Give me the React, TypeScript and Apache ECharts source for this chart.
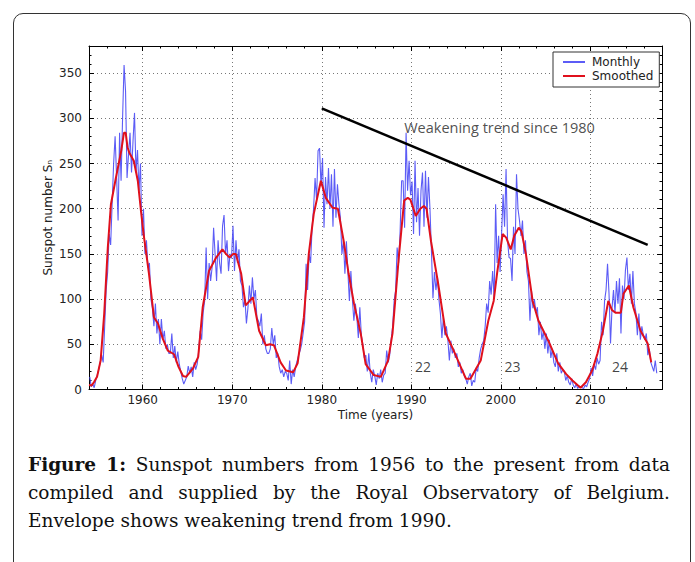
import React, { useEffect, useRef } from "react";
import * as echarts from "echarts";

// ---- axis ranges / ticks ----
const X_MIN = 1954;
const X_MAX = 2018;
const Y_MIN = 0;
const Y_MAX = 380;
const yearTicks = [1960, 1970, 1980, 1990, 2000, 2010];

// ---- monthly sunspot number (~6 samples per year) ----
const monthlyStart = 1954;
const samplesPerYear = 6;
const monthlyValues = [
  14, 3, 6, 2, 10, 16, // 1954
  22, 30, 38, 30, 70, 110, // 1955
  130, 172, 160, 205, 250, 280, // 1956
  235, 187, 284, 231, 300, 359, // 1957
  330, 234, 260, 284, 240, 275, // 1958
  306, 240, 265, 220, 250, 170, // 1959
  200, 150, 165, 135, 140, 100, // 1960
  90, 70, 95, 62, 78, 50, // 1961
  78, 55, 65, 45, 50, 40, // 1962
  40, 62, 35, 48, 30, 42, // 1963
  28, 20, 12, 6, 10, 14, // 1964
  26, 18, 25, 14, 30, 22, // 1965
  28, 42, 65, 55, 85, 98, // 1966
  157, 100, 140, 120, 135, 179, // 1967
  150, 120, 165, 140, 128, 181, // 1968
  193, 150, 165, 131, 150, 145, // 1969
  181, 131, 165, 140, 155, 120, // 1970
  115, 91, 100, 73, 90, 115, // 1971
  95, 124, 100, 110, 80, 76, // 1972
  70, 84, 50, 60, 45, 40, // 1973
  40, 45, 68, 50, 60, 35, // 1974
  40, 25, 18, 22, 14, 20, // 1975
  18, 10, 32, 6, 22, 14, // 1976
  25, 32, 38, 43, 50, 62, // 1977
  75, 139, 110, 150, 140, 179, // 1978
  200, 234, 210, 264, 267, 225, // 1979
  256, 179, 235, 205, 245, 200, // 1980
  238, 180, 244, 190, 227, 205, // 1981
  190, 150, 165, 128, 164, 130, // 1982
  98, 131, 100, 76, 95, 80, // 1983
  57, 91, 60, 50, 35, 38, // 1984
  20, 40, 18, 8, 22, 15, // 1985
  5, 18, 12, 22, 8, 16, // 1986
  18, 43, 30, 38, 55, 70, // 1987
  98, 110, 157, 140, 175, 231, // 1988
  231, 179, 284, 220, 253, 215, // 1989
  230, 172, 253, 185, 223, 170, // 1990
  220, 240, 180, 242, 190, 235, // 1991
  200, 153, 101, 130, 110, 125, // 1992
  100, 84, 57, 80, 60, 70, // 1993
  55, 32, 54, 40, 45, 35, // 1994
  40, 25, 30, 18, 22, 15, // 1995
  12, 6, 14, 18, 4, 10, // 1996
  8, 24, 20, 35, 45, 50, // 1997
  54, 70, 95, 85, 120, 105, // 1998
  131, 100, 205, 140, 170, 130, // 1999
  172, 216, 180, 244, 165, 146, // 2000
  145, 120, 180, 150, 238, 200, // 2001
  187, 170, 187, 150, 165, 130, // 2002
  120, 76, 110, 90, 100, 85, // 2003
  91, 60, 75, 55, 65, 45, // 2004
  62, 40, 55, 35, 45, 30, // 2005
  25, 40, 20, 30, 18, 22, // 2006
  20, 10, 15, 8, 5, 12, // 2007
  5, 2, 6, 1, 4, 3, // 2008
  2, 1, 5, 3, 8, 12, // 2009
  24, 15, 28, 22, 35, 28, // 2010
  32, 75, 60, 98, 110, 139, // 2011
  106, 51, 90, 110, 85, 120, // 2012
  95, 123, 62, 115, 100, 132, // 2013
  146, 110, 128, 95, 131, 95, // 2014
  85, 60, 84, 55, 70, 60, // 2015
  55, 62, 38, 45, 30, 25, // 2016
  20, 32, 18, // 2017
];

// ---- 13-month smoothed sunspot number [year, value] ----
const smoothed: [number, number][] = [
  [1954.0, 5], [1954.3, 4.5], [1954.55, 8], [1954.9, 14], [1955.3, 32], [1955.7, 84],
  [1956.1, 157], [1956.45, 205], [1957.0, 234], [1957.6, 264], [1957.9, 284], [1958.1, 284],
  [1958.3, 268], [1958.5, 262], [1959.0, 253], [1959.45, 231], [1959.8, 198], [1960.1, 172],
  [1960.7, 128], [1961.25, 80], [1961.7, 73], [1962.25, 56], [1962.8, 43], [1963.5, 39],
  [1964.0, 25], [1964.5, 15], [1964.85, 14], [1965.6, 23], [1966.2, 36], [1966.7, 91],
  [1967.4, 131], [1968.2, 146], [1968.9, 155], [1969.3, 150], [1969.7, 146], [1970.1, 150],
  [1970.4, 150], [1971.0, 128], [1971.5, 93], [1972.3, 102], [1973.0, 65], [1973.75, 49],
  [1974.2, 50], [1974.65, 49], [1975.4, 30], [1976.0, 21], [1976.8, 19], [1977.3, 29],
  [1978.0, 80], [1978.55, 150], [1979.1, 194], [1979.9, 231], [1980.45, 212], [1981.2, 201],
  [1981.8, 200], [1982.45, 164], [1983.0, 128], [1983.6, 95], [1984.35, 62], [1984.9, 28],
  [1985.8, 16], [1986.6, 14], [1987.4, 32], [1987.9, 62], [1988.6, 146], [1989.2, 209],
  [1989.6, 212], [1989.9, 210], [1990.5, 192], [1991.0, 200], [1991.4, 203], [1991.7, 200],
  [1992.2, 164], [1993.0, 117], [1993.85, 62], [1994.6, 46], [1995.3, 30], [1996.1, 12],
  [1996.6, 12], [1997.75, 32], [1998.6, 76], [1999.2, 98], [1999.6, 130], [2000.2, 172],
  [2000.6, 168], [2001.1, 155], [2001.5, 170], [2002.0, 179], [2002.3, 175], [2002.8, 150],
  [2003.55, 98], [2004.2, 76], [2005.3, 54], [2006.4, 29], [2007.3, 17], [2008.0, 10],
  [2008.9, 2], [2009.5, 8], [2010.2, 21], [2010.8, 40], [2011.4, 65], [2012.0, 98],
  [2012.4, 88], [2012.8, 85], [2013.4, 85], [2013.7, 106], [2014.3, 115], [2014.8, 91],
  [2015.2, 78], [2015.6, 65], [2016.4, 51], [2016.8, 30],
];

// ---- weakening-trend line ----
const trendLine: [number, number][] = [
  [1980, 311],
  [2016.4, 160],
];

// ---- annotations ----
const trendLabel = { text: "Weakening trend since 1980", at: [1989.15, 290] };
const cycleLabels = [
  { text: "22", at: [1991.3, 25] },
  { text: "23", at: [2001.3, 25] },
  { text: "24", at: [2013.3, 25] },
];

const SANS = "DejaVu Sans";
const HUMAN = "Open Sans";

export default function App() {
  const ref = useRef<HTMLDivElement>(null);

  useEffect(() => {
    if (!ref.current) return;
    const chart = echarts.init(ref.current, undefined, { renderer: "svg" });

    const monthly = monthlyValues.map((v, i) => [
      monthlyStart + i / samplesPerYear + 1 / (2 * samplesPerYear),
      v,
    ]);

    const frame = { show: true, onZero: false, lineStyle: { color: "#000", width: 1 } };
    const gridLine = { show: true, lineStyle: { type: [1, 3], color: "#777", width: 1 } };
    const majorX = (pos: "top" | "bottom", labels: boolean) => ({
      type: "value",
      min: X_MIN,
      max: X_MAX,
      position: pos,
      axisLine: frame,
      axisTick: {
        show: true,
        inside: true,
        length: 5,
        customValues: yearTicks,
        lineStyle: { color: "#000", width: 1 },
      },
      axisLabel: labels
        ? {
            show: true,
            customValues: yearTicks,
            formatter: (v: number) => String(Math.round(v)),
            margin: 4,
            fontSize: 12,
            fontFamily: SANS,
            color: "#222",
          }
        : { show: false },
      splitLine: labels ? gridLine : { show: false },
      ...(labels
        ? {
            name: "Time (years)",
            nameLocation: "middle",
            nameGap: 19,
            nameMoveOverlap: false,
            nameTextStyle: {
              fontSize: 12,
              fontFamily: SANS,
              color: "#222",
              verticalAlign: "top",
            },
          }
        : {}),
    });
    const minorX = (pos: "top" | "bottom") => ({
      type: "value",
      min: X_MIN,
      max: X_MAX,
      interval: 2,
      position: pos,
      axisLine: { show: false, onZero: false },
      axisTick: { show: true, inside: true, length: 2.5, lineStyle: { color: "#000", width: 1 } },
      axisLabel: { show: false },
      splitLine: { show: false },
    });
    const majorY = (pos: "left" | "right", labels: boolean) => ({
      type: "value",
      min: Y_MIN,
      max: Y_MAX,
      interval: 50,
      position: pos,
      axisLine: frame,
      axisTick: { show: true, inside: true, length: 5, lineStyle: { color: "#000", width: 1 } },
      axisLabel: labels
        ? {
            show: true,
            showMaxLabel: false,
            margin: 7,
            fontSize: 12,
            fontFamily: SANS,
            color: "#222",
          }
        : { show: false },
      splitLine: labels ? gridLine : { show: false },
      ...(labels
        ? {
            name: "Sunspot number S\u2099",
            nameLocation: "middle",
            nameGap: 35,
            nameMoveOverlap: false,
            nameTextStyle: { fontSize: 12, fontFamily: SANS, color: "#222" },
          }
        : {}),
    });
    const minorY = (pos: "left" | "right") => ({
      type: "value",
      min: Y_MIN,
      max: Y_MAX,
      interval: 10,
      position: pos,
      axisLine: { show: false, onZero: false },
      axisTick: { show: true, inside: true, length: 2.5, lineStyle: { color: "#000", width: 1 } },
      axisLabel: { show: false },
      splitLine: { show: false },
    });

    chart.setOption({
      animation: false,
      backgroundColor: "transparent",
      grid: { left: 89, top: 46, width: 573, height: 343.5, containLabel: false },
      legend: {
        data: ["Monthly", "Smoothed"],
        orient: "vertical",
        left: 553,
        top: 52,
        backgroundColor: "#fff",
        borderColor: "#333",
        borderWidth: 1,
        borderRadius: 0,
        padding: [4, 6, 5, 9],
        itemWidth: 22,
        itemHeight: 12,
        itemGap: 2,
        itemStyle: { opacity: 0 },
        textStyle: { fontSize: 12, fontFamily: SANS, color: "#222", padding: [0, 0, 0, 2] },
      },
      xAxis: [majorX("bottom", true), minorX("bottom"), majorX("top", false), minorX("top")],
      yAxis: [majorY("left", true), minorY("left"), majorY("right", false), minorY("right")],
      series: [
        {
          name: "Monthly",
          type: "line",
          xAxisIndex: 0,
          yAxisIndex: 0,
          data: monthly,
          symbol: "none",
          color: "#4a4af5",
          lineStyle: { color: "#4a4af5", width: 1.1, opacity: 0.9 },
          z: 2,
        },
        {
          name: "Smoothed",
          type: "line",
          xAxisIndex: 0,
          yAxisIndex: 0,
          data: smoothed,
          symbol: "none",
          color: "#e0101c",
          lineStyle: { color: "#e0101c", width: 2 },
          z: 3,
        },
        {
          name: "Trend",
          type: "line",
          xAxisIndex: 0,
          yAxisIndex: 0,
          data: trendLine,
          symbol: "none",
          lineStyle: { color: "#000", width: 2.5 },
          z: 4,
        },
        {
          name: "Annotations",
          type: "scatter",
          xAxisIndex: 0,
          yAxisIndex: 0,
          symbolSize: 1,
          itemStyle: { color: "transparent" },
          z: 5,
          data: [
            {
              value: trendLabel.at,
              label: {
                show: true,
                position: "right",
                distance: 0,
                formatter: trendLabel.text,
                fontSize: 14.5,
                fontFamily: HUMAN,
                color: "#222",
              },
            },
            ...cycleLabels.map((c) => ({
              value: c.at,
              label: {
                show: true,
                position: "inside",
                formatter: c.text,
                fontSize: 14,
                fontFamily: HUMAN,
                color: "#111",
              },
            })),
          ],
        },
      ],
    });

    return () => chart.dispose();
  }, []);

  const captionLine: React.CSSProperties = {
    textAlign: "justify",
    textAlignLast: "justify",
  };

  return (
    <div
      style={{
        position: "fixed",
        left: 0,
        top: 0,
        width: 695,
        height: 562,
        overflow: "hidden",
        background: "#fff",
      }}
    >
      <div
        style={{
          position: "absolute",
          left: 13,
          top: 13,
          width: 678,
          height: 640,
          border: "1.5px solid #333",
          borderRadius: 10,
          boxSizing: "border-box",
        }}
      />
      <div ref={ref} style={{ position: "absolute", left: 0, top: 0, width: 695, height: 440 }} />
      <div
        style={{
          position: "absolute",
          left: 28,
          top: 451,
          width: 642,
          fontFamily: "DejaVu Serif",
          fontSize: 18.5,
          lineHeight: "28px",
          color: "#111",
        }}
      >
        <div style={captionLine}>
          <b>Figure 1:</b> Sunspot numbers from 1956 to the present from data
        </div>
        <div style={captionLine}>
          compiled and supplied by the Royal Observatory of Belgium.
        </div>
        <div>Envelope shows weakening trend from 1990.</div>
      </div>
    </div>
  );
}
